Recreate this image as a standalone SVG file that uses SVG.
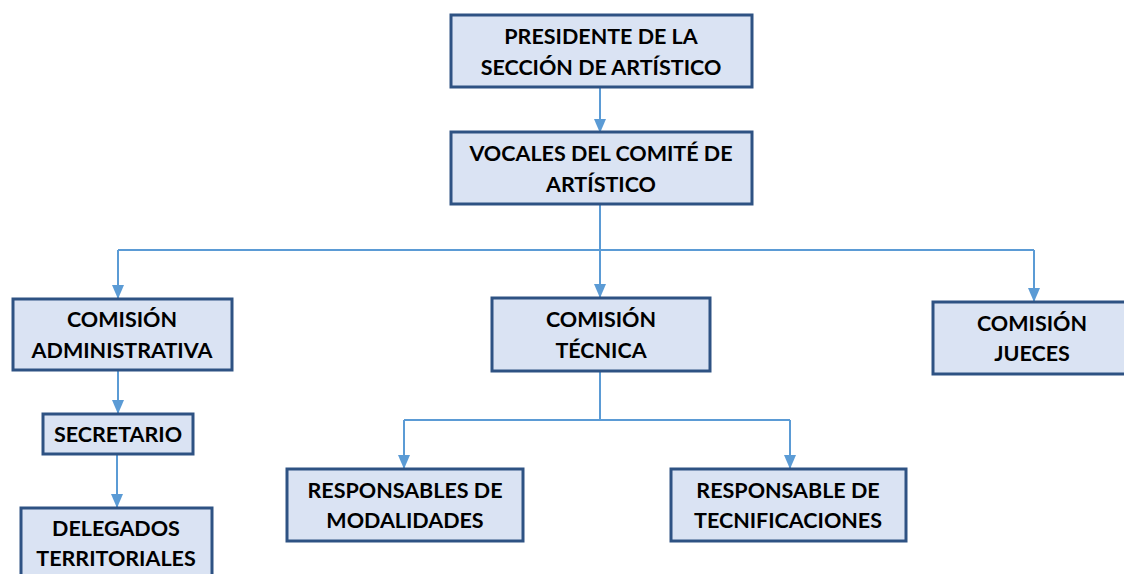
<svg xmlns="http://www.w3.org/2000/svg" width="1124" height="574" viewBox="0 0 1124 574">
<defs>
<marker id="ah" markerWidth="14" markerHeight="12" refX="13" refY="6" orient="auto" markerUnits="userSpaceOnUse" viewBox="0 0 14 12">
<path d="M0,0 L14,6 L0,12 z" fill="#5b9bd5"/>
</marker>
<style>
.box{fill:#dae3f3;stroke:#2e5283;stroke-width:3}
.t{font-family:Lato,"Liberation Sans",sans-serif;font-weight:bold;font-size:21.5px;fill:#000;text-anchor:middle}
.c{fill:none;stroke:#5b9bd5;stroke-width:2}
.ca{fill:none;stroke:#5b9bd5;stroke-width:2;marker-end:url(#ah)}
</style>
</defs>
<rect width="1124" height="574" fill="#fff"/>
<g id="connectors">
<path class="ca" d="M600,88 V132"/>
<path class="c" d="M600,205 V250"/>
<path class="c" d="M118,250 H1034"/>
<path class="ca" d="M118,250 V298"/>
<path class="ca" d="M600,250 V297"/>
<path class="ca" d="M1034,250 V301"/>
<path class="ca" d="M118,371 V413"/>
<path class="ca" d="M117,455 V507"/>
<path class="c" d="M600,372 V420 H790"/>
<path class="c" d="M600,420 H404"/>
<path class="ca" d="M404,420 V468"/>
<path class="ca" d="M790,420 V468"/>
</g>
<g id="n1"><rect class="box" x="451" y="15" width="301" height="72"/>
<text class="t" x="601" y="44">PRESIDENTE DE LA</text>
<text class="t" x="601" y="75">SECCIÓN DE ARTÍSTICO</text></g>
<g id="n2"><rect class="box" x="451" y="132" width="301" height="72"/>
<text class="t" x="601" y="161">VOCALES DEL COMITÉ DE</text>
<text class="t" x="601" y="192">ARTÍSTICO</text></g>
<g id="n3"><rect class="box" x="13" y="299" width="219" height="71"/>
<text class="t" x="122" y="327">COMISIÓN</text>
<text class="t" x="122" y="358">ADMINISTRATIVA</text></g>
<g id="n4"><rect class="box" x="492" y="298" width="218" height="73"/>
<text class="t" x="601" y="327">COMISIÓN</text>
<text class="t" x="601" y="358">TÉCNICA</text></g>
<g id="n5"><rect class="box" x="933" y="302" width="200" height="72"/>
<text class="t" x="1032" y="331">COMISIÓN</text>
<text class="t" x="1032" y="361">JUECES</text></g>
<g id="n6"><rect class="box" x="43" y="414" width="150" height="40"/>
<text class="t" x="118" y="442">SECRETARIO</text></g>
<g id="n7"><rect class="box" x="21" y="508" width="191" height="80"/>
<text class="t" x="116" y="536">DELEGADOS</text>
<text class="t" x="116" y="566">TERRITORIALES</text></g>
<g id="n8"><rect class="box" x="287" y="469" width="236" height="72"/>
<text class="t" x="405" y="498">RESPONSABLES DE</text>
<text class="t" x="405" y="528">MODALIDADES</text></g>
<g id="n9"><rect class="box" x="671" y="469" width="235" height="72"/>
<text class="t" x="788" y="498">RESPONSABLE DE</text>
<text class="t" x="788" y="528">TECNIFICACIONES</text></g>
</svg>
